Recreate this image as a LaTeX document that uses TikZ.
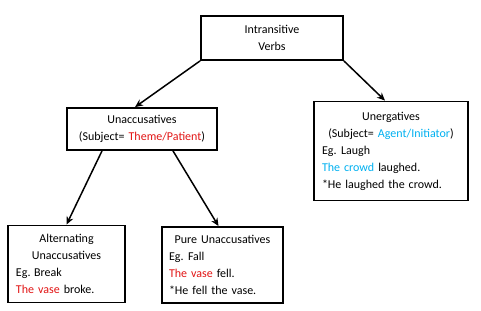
\documentclass[tikz,border=0pt]{standalone}
\usepackage{fontspec}
\setmainfont{Carlito}
\usepackage{tikz}
\usetikzlibrary{arrows.meta,positioning,calc}
\definecolor{vred}{RGB}{225,20,20}
\definecolor{sky}{RGB}{0,176,240}
\newcommand{\lft}[1]{\makebox[\linewidth][l]{#1}}

\begin{document}
\begin{tikzpicture}[
        x=1pt, y=-1pt,
        box/.style={draw, line width=1.8pt, align=center, inner xsep=8pt, inner ysep=0pt,
            font=\fontsize{12}{17}\selectfont},
        arr/.style={-{Stealth[length=8pt,width=7pt]}, line width=1.5pt}
    ]
        \useasboundingbox (0,0) rectangle (481,310);
        \node[box, minimum width=142pt, minimum height=44pt, text width=126pt] (intr) at (272,38) {Intransitive\\Verbs};
        \node[box, minimum width=150pt, minimum height=42pt, text width=134pt] (unacc) at (142,129) {Unaccusatives\\(Subject= \textcolor{vred}{Theme/Patient})};
        \node[box, minimum width=154pt, minimum height=99pt, text width=138pt] (unerg) at (391,151) {Unergatives\\(Subject= \textcolor{sky}{Agent/Initiator})\\\lft{Eg.\hspace{4.5pt}Laugh}\\\lft{\textcolor{sky}{The crowd} laughed.}\\\lft{*He laughed the crowd.}};

        \node[box, minimum width=117pt, minimum height=77pt, text width=101pt] (alt) at (66.5,264) {Alternating\\Unaccusatives\\\lft{Eg.\hspace{3.5pt}Break}\\\lft{\textcolor{vred}{The vase} broke.}};
        \node[box, minimum width=121pt, minimum height=76pt, text width=107pt, inner xsep=7pt] (pure) at (222.5,265) {Pure Unaccusatives\\\lft{Eg.\hspace{4.5pt}Fall}\\\lft{\textcolor{vred}{The vase} fell.}\\\lft{*He fell the vase.}};

        \draw[arr] (intr.south west) -- ([xshift=-7pt]unacc.north);
        \draw[arr] (intr.south east) -- ([xshift=-6pt]unerg.north);
        \draw[arr] ([xshift=-40pt]unacc.south) -- (alt.north);
        \draw[arr] ([xshift=31pt]unacc.south) -- ([xshift=-4pt]pure.north);
    \end{tikzpicture}
\end{document}
